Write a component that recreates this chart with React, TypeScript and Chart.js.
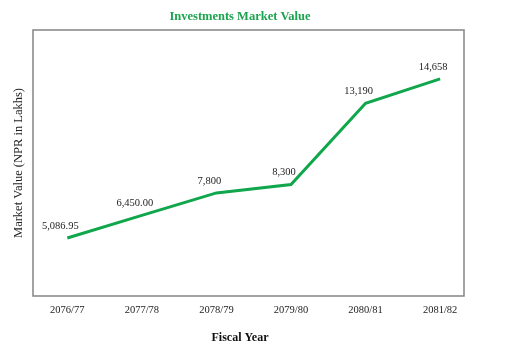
import React, { useEffect, useRef } from "react";
import { Chart, registerables } from "chart.js";

Chart.register(...registerables);

const fiscalYears = ["2076/77", "2077/78", "2078/79", "2079/80", "2080/81", "2081/82"];
const marketValues = [5086.95, 6450.0, 7800, 8300, 13190, 14658];
const labelDecimals = [2, 2, 0, 0, 0, 0];

const GREEN = "#10a64c";
const TITLE_GREEN = "#1ca34f";
const SERIF = "'Liberation Serif', 'DejaVu Serif', serif";

// Full rectangle around the plotting area
const frameBox = {
  id: "frameBox",
  beforeDatasetsDraw(chart: any) {
    const { ctx, chartArea } = chart;
    ctx.save();
    ctx.strokeStyle = "#8c8c8c";
    ctx.lineWidth = 1.6;
    ctx.strokeRect(chartArea.left, chartArea.top, chartArea.right - chartArea.left, chartArea.bottom - chartArea.top);
    ctx.restore();
  },
};

// Value labels above each point
const valueLabels = {
  id: "valueLabels",
  afterDatasetsDraw(chart: any) {
    const { ctx } = chart;
    const meta = chart.getDatasetMeta(0);
    ctx.save();
    ctx.font = `10.5px ${SERIF}`;
    ctx.fillStyle = "#222";
    ctx.textAlign = "center";
    ctx.textBaseline = "middle";
    meta.data.forEach((pt: any, i: number) => {
      const text = marketValues[i].toLocaleString("en-US", {
        minimumFractionDigits: labelDecimals[i],
        maximumFractionDigits: labelDecimals[i],
      });
      ctx.fillText(text, pt.x - 7, pt.y - 12);
    });
    ctx.restore();
  },
};

export default function App() {
  const ref = useRef<HTMLCanvasElement | null>(null);

  useEffect(() => {
    if (!ref.current) return;
    const chart = new Chart(ref.current, {
      type: "line",
      data: {
        datasets: [
          {
            data: marketValues.map((v, i) => ({ x: i, y: v })),
            borderColor: GREEN,
            borderWidth: 3,
            pointRadius: 0,
            tension: 0,
            fill: false,
          },
        ],
      },
      options: {
        animation: false,
        responsive: false,
        layout: { padding: 0 },
        plugins: {
          legend: { display: false },
          tooltip: { enabled: false },
          title: {
            display: true,
            text: "Investments Market Value",
            color: TITLE_GREEN,
            font: { family: SERIF, size: 12.5, weight: "bold" },
            padding: { top: 1, bottom: 6 },
          },
          subtitle: {
            display: true,
            position: "bottom",
            text: "Fiscal Year",
            color: "#111",
            font: { family: SERIF, size: 12, weight: "bold" },
            padding: { top: 6, bottom: 5 },
          },
        },
        scales: {
          x: {
            type: "linear",
            min: -0.46,
            max: 5.32,
            grid: { display: false, drawTicks: false },
            border: { display: false },
            afterBuildTicks: (axis: any) => {
              axis.ticks = fiscalYears.map((_, i) => ({ value: i }));
            },
            ticks: {
              autoSkip: false,
              maxRotation: 0,
              padding: 8,
              color: "#222",
              font: { family: SERIF, size: 10.5 },
              callback: (v: any) => fiscalYears[v] ?? "",
            },
          },
          y: {
            min: 1600,
            max: 17600,
            grid: { display: false, drawTicks: false },
            border: { display: false },
            ticks: { display: false },
            title: {
              display: true,
              text: "Market Value (NPR in Lakhs)",
              color: "#222",
              font: { family: SERIF, size: 12.5 },
              padding: { top: 3, bottom: 7 },
            },
          },
          // empty strip on the right side of the plot
          yRight: {
            position: "right",
            display: true,
            grid: { display: false, drawTicks: false },
            border: { display: false },
            ticks: { display: false },
            afterFit: (s: any) => {
              s.width = 8;
            },
          },
        },
      },
      plugins: [frameBox, valueLabels],
    });
    return () => chart.destroy();
  }, []);

  return <canvas ref={ref} width={464} height={342} />;
}
